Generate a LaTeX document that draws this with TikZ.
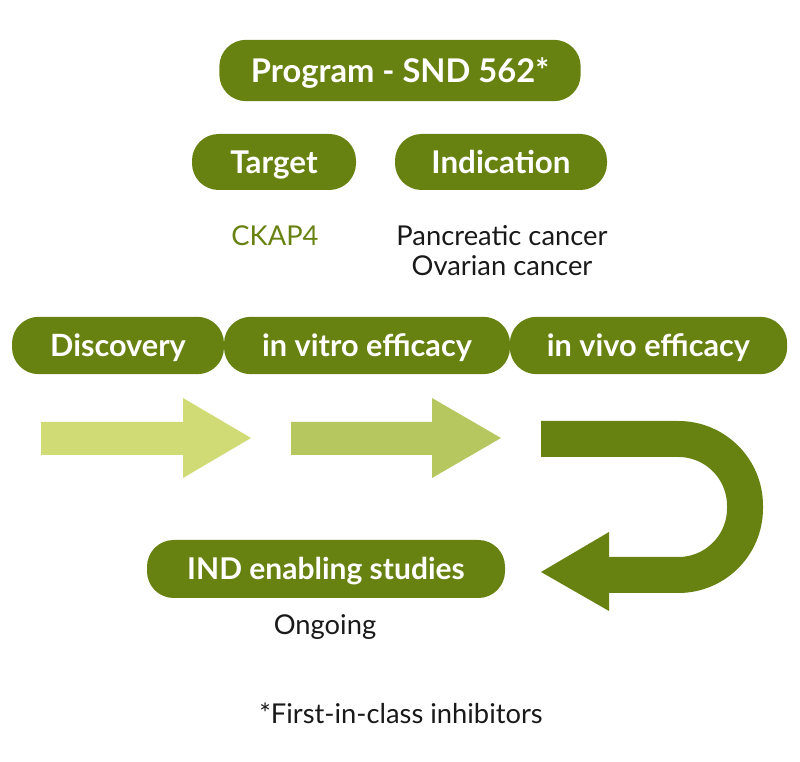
\documentclass[tikz,border=0pt]{standalone}
\usepackage{fontspec}
\setmainfont{Lato}
\definecolor{pillgreen}{RGB}{104,130,18}
\definecolor{lightarrow}{RGB}{208,219,117}
\definecolor{midarrow}{RGB}{181,199,94}
\tikzset{
  pill/.style={fill=pillgreen, text=white, rounded corners=20pt, inner sep=0pt,
    font=\fontsize{#1}{#1}\selectfont\bfseries, text height=0.72*#1pt, text depth=0pt},
  plain/.style={text=black!90, font=\fontsize{20.5}{24}\selectfont},
}

\begin{document}
\begin{tikzpicture}[x=0.75pt,y=-0.75pt]
        \useasboundingbox (0,0) rectangle (800,762);

        \node[pill=24.5, minimum width=271pt, minimum height=46pt] (program) at (400,70.5) {Program - SND 562*};
        \node[pill=23.5, minimum width=123pt, minimum height=42pt] (target) at (274,162) {Target};
        \node[pill=23.5, minimum width=159pt, minimum height=42pt] (indication) at (501,162) {Indication};

        \node[plain, text=pillgreen] (ckap) at (275,236) {CKAP4};
        \node[plain] (pancreatic) at (502,236) {Pancreatic cancer};
        \node[plain] (ovarian) at (502,266) {Ovarian cancer};

        \node[pill=23, minimum width=159pt, minimum height=43pt] (discovery) at (118,345.5) {Discovery};
        \node[pill=23, minimum width=214.5pt, minimum height=43pt] (vitro) at (367,345.5) {in vitro efficacy};
        \node[pill=23, minimum width=208pt, minimum height=43pt] (vivo) at (648.5,345.5) {in vivo efficacy};

        % arrows
        \fill[lightarrow] (41,422) -- (183,422) -- (183,398) -- (251,438) -- (183,478) -- (183,455) -- (41,455) -- cycle;
        \fill[midarrow] (291,422) -- (432,422) -- (432,398) -- (501,438) -- (432,478) -- (432,455) -- (291,455) -- cycle;

        \draw[pillgreen, line width=27pt, rounded corners=50pt] (541,439) -- (745,439) -- (745,575) -- (607,575);
        \fill[pillgreen] (541,572) -- (609,532) -- (609,611) -- cycle;

        \node[pill=22.5, minimum width=268.5pt, minimum height=43.5pt] (ind) at (326,569) {IND enabling studies};
        \node[plain] (ongoing) at (325,627) {Ongoing};

        \node[plain] (note) at (401,713) {*First-in-class inhibitors};
    \end{tikzpicture}
\end{document}
